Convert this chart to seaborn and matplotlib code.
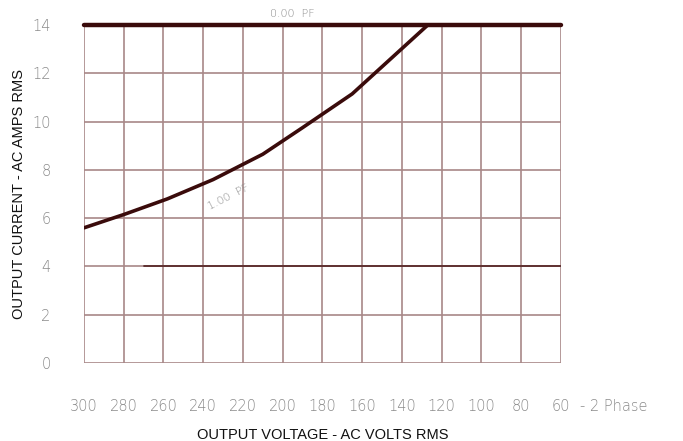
import matplotlib
matplotlib.use("Agg")
import matplotlib.pyplot as plt
import seaborn as sns
import pandas as pd

# output current vs output voltage (2 phase)
volts_100pf = [300, 280, 258, 235, 210, 190, 165, 127]
amps_100pf = [5.6, 6.15, 6.8, 7.6, 8.65, 9.75, 11.15, 14.0]

volts_000pf = [300, 60]
amps_000pf = [14.0, 14.0]

volts_low = [270, 60]
amps_low = [4.0, 4.0]

x_ticks = [300, 280, 260, 240, 220, 200, 180, 160, 140, 120, 100, 80, 60]
y_ticks = [0, 2, 4, 6, 8, 10, 12, 14]

sns.set_style("white")
plt.rcParams['font.family'] = ['DejaVu Sans']

grid_col = "#a88888"
line_col = "#3a0b0b"
tick_col = "#8a8a8a"

fig = plt.figure(figsize=(6.83, 4.41), dpi=100)
ax = fig.add_axes([0.123, 0.177, 0.698, 0.766])

df1 = pd.DataFrame({"v": volts_100pf, "a": amps_100pf})
df0 = pd.DataFrame({"v": volts_000pf, "a": amps_000pf})
df4 = pd.DataFrame({"v": volts_low, "a": amps_low})

sns.lineplot(data=df1, x="v", y="a", ax=ax, color=line_col, lw=2.6,
             sort=False, zorder=5)
sns.lineplot(data=df0, x="v", y="a", ax=ax, color=line_col, lw=3.2,
             sort=False, zorder=6, clip_on=False)
sns.lineplot(data=df4, x="v", y="a", ax=ax, color="#5a2a2a", lw=1.3,
             sort=False, zorder=4)

ax.set_xlim(300, 60)
ax.set_ylim(0, 14)
ax.set_xticks(x_ticks)
ax.set_yticks(y_ticks)
ax.grid(True, color=grid_col, lw=1.2)
for s in ax.spines.values():
    s.set_visible(False)

ax.tick_params(axis="y", direction="out", length=10, width=1.2,
               color=grid_col, labelcolor=tick_col, labelsize=10.5, pad=14)
ax.tick_params(axis="x", length=0, labelcolor=tick_col, labelsize=10.5, pad=26)
for lab in ax.get_xticklabels() + ax.get_yticklabels():
    lab.set_fontweight("light")

ax.annotate("- 2 Phase", xy=(60, 0), xytext=(14, -26), textcoords="offset points",
            ha="left", va="top", color=tick_col, fontsize=10.5,
            fontweight="light", annotation_clip=False)

ax.text(195, 14.25, "0.00  PF", color=tick_col, fontsize=8, ha="center",
        va="bottom", fontweight="light")
ax.text(227, 6.85, "1.00  PF", color=tick_col, fontsize=8, ha="center",
        va="center", rotation=27, fontweight="light")

ax.set_xlabel("OUTPUT VOLTAGE - AC VOLTS RMS", family="Liberation Sans",
              fontsize=10.5, color="#111111", labelpad=10)
ax.set_ylabel("OUTPUT CURRENT - AC AMPS RMS", family="Liberation Sans",
              fontsize=10.5, color="#111111", labelpad=4)

fig.savefig("out.png", dpi=100, facecolor="white")
